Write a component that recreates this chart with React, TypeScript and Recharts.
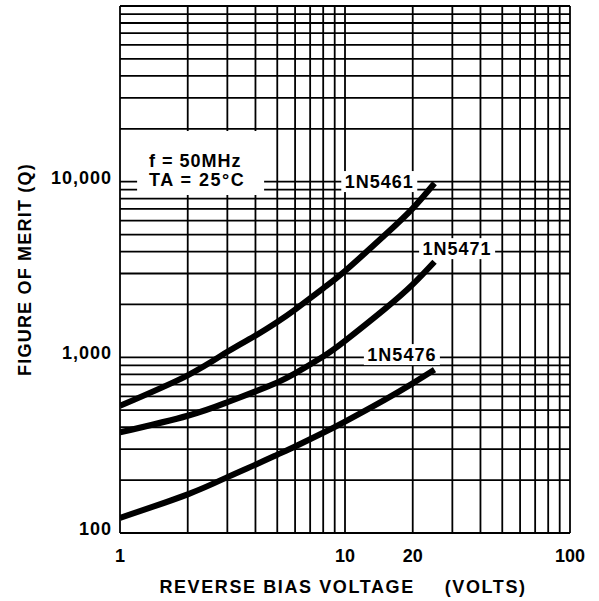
import React from 'react';
import { LineChart, Line, XAxis, YAxis, CartesianGrid, ReferenceDot } from 'recharts';

// reverse bias voltage (V)
const volts = [1, 2, 3, 4, 5, 6, 8, 10, 15, 20, 25];
// figure of merit Q per device
const q5461 = [530, 790, 1075, 1330, 1590, 1870, 2470, 3100, 4950, 7050, 9800];
const q5471 = [374, 465, 555, 640, 720, 810, 1010, 1240, 1880, 2600, 3500];
const q5476 = [122, 166, 208, 245, 279, 311, 372, 431, 573, 711, 850];

const xTicks = [1, 2, 3, 4, 5, 6, 7, 8, 9, 10, 20, 30, 40, 50, 60, 70, 80, 90, 100];
const xLabels = [1, 10, 20, 100];
const yTicks = [
  100, 200, 300, 400, 500, 600, 700, 800, 900,
  1000, 2000, 3000, 4000, 5000, 6000, 7000, 8000, 9000,
  10000, 20000, 30000, 40000, 50000, 60000, 70000, 80000, 90000, 100000,
];
const yLabels = [100, 1000, 10000];

// curve name labels, placed in data space
const tagNames = ['1N5461', '1N5471', '1N5476'];
const tagVolts = [14.2, 31.5, 17.9];
const tagQ = [9950, 4130, 1030];

const data = volts.map((v, i) => ({ v, a: q5461[i], b: q5471[i], c: q5476[i] }));

const font = '"Liberation Sans", Arial, Helvetica, sans-serif';
const ink = '#000';

const XTick = (props: any) => {
  const { x, y, payload } = props;
  if (!xLabels.includes(payload.value)) return <g />;
  return (
    <text x={x} y={y + 23} textAnchor="middle" dominantBaseline="central"
      fontFamily={font} fontWeight="bold" fontSize={18} fill={ink}>
      {payload.value}
    </text>
  );
};

const YTick = (props: any) => {
  const { x, y, payload } = props;
  if (!yLabels.includes(payload.value)) return <g />;
  return (
    <text x={x - 8} y={y - 4} textAnchor="end" dominantBaseline="central"
      fontFamily={font} fontWeight="bold" fontSize={18} fill={ink} letterSpacing={1}>
      {payload.value.toLocaleString('en-US')}
    </text>
  );
};

const Tag = (name: string) => (props: any) => {
  const { cx, cy } = props;
  return (
    <g>
      <rect x={cx - 38} y={cy - 11} width={76} height={21} fill="#fff" />
      <text x={cx} y={cy} textAnchor="middle" dominantBaseline="central"
        fontFamily={font} fontWeight="bold" fontSize={18} fill={ink} letterSpacing={1}>
        {name}
      </text>
    </g>
  );
};

const Conditions = (props: any) => {
  const { cx, cy } = props;
  return (
    <g>
      <rect x={cx - 63} y={cy - 32} width={127} height={64} fill="#fff" />
      <text x={cx - 51} y={cy - 2} dominantBaseline="central"
        fontFamily={font} fontWeight="bold" fontSize={18} fill={ink} letterSpacing={1}>
        f = 50MHz
      </text>
      <text x={cx - 51} y={cy + 17} dominantBaseline="central"
        fontFamily={font} fontWeight="bold" fontSize={18} fill={ink} letterSpacing={1.5}>
        TA = 25°C
      </text>
    </g>
  );
};

export default function App() {
  return (
    <div style={{ position: 'absolute', left: 0, top: 0, width: 599, height: 601, background: '#fff' }}>
      <LineChart width={599} height={601} data={data} margin={{ top: 6, right: 29, bottom: 0, left: 0 }}>
        <CartesianGrid stroke={ink} strokeWidth={1.8} />
        <XAxis
          dataKey="v"
          type="number"
          scale="log"
          domain={[1, 100]}
          ticks={xTicks}
          interval={0}
          allowDataOverflow
          axisLine={false}
          tickLine={false}
          tickSize={0}
          tickMargin={0}
          height={68}
          tick={XTick}
          label={{
            content: (p: any) => {
              const vb = p.viewBox;
              return (
                <text x={343} y={vb.y + 54} textAnchor="middle" dominantBaseline="central"
                  fontFamily={font} fontWeight="bold" fontSize={18} fill={ink} letterSpacing={1.6}>
                  <tspan>REVERSE BIAS VOLTAGE</tspan>
                  <tspan dx={30}>(VOLTS)</tspan>
                </text>
              );
            },
          }}
        />
        <YAxis
          type="number"
          scale="log"
          domain={[100, 100000]}
          ticks={yTicks}
          interval={0}
          allowDataOverflow
          axisLine={false}
          tickLine={false}
          tickSize={0}
          tickMargin={0}
          width={120}
          tick={YTick}
          label={{
            content: (p: any) => {
              const vb = p.viewBox;
              const cx = vb.x + 25;
              const cy = vb.y + vb.height / 2;
              return (
                <text x={cx} y={cy} textAnchor="middle" dominantBaseline="central"
                  transform={`rotate(-90 ${cx} ${cy})`}
                  fontFamily={font} fontWeight="bold" fontSize={18} fill={ink} letterSpacing={1.2}>
                  FIGURE OF MERIT (Q)
                </text>
              );
            },
          }}
        />
        <ReferenceDot x={2.27} y={12770} shape={Conditions} />
        {tagNames.map((n, i) => (
          <ReferenceDot key={n} x={tagVolts[i]} y={tagQ[i]} shape={Tag(n)} />
        ))}
        <Line type="natural" dataKey="a" stroke={ink} strokeWidth={6} dot={false} isAnimationActive={false} />
        <Line type="natural" dataKey="b" stroke={ink} strokeWidth={6} dot={false} isAnimationActive={false} />
        <Line type="natural" dataKey="c" stroke={ink} strokeWidth={6} dot={false} isAnimationActive={false} />
      </LineChart>
    </div>
  );
}
